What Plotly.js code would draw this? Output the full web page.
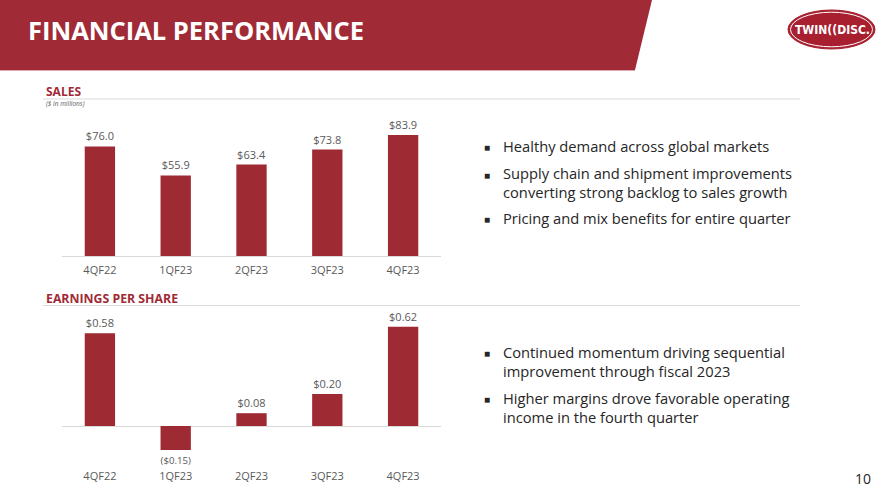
<!DOCTYPE html>
<html>
<head>
<meta charset="utf-8">
<script src="https://cdn.plot.ly/plotly-3.0.1.min.js"></script>
<style>
  html, body { margin: 0; padding: 0; background: #ffffff; }
  #chart { width: 890px; height: 501px; }
</style>
</head>
<body>
<div id="chart"></div>
<script>
// Quarterly results
const quarters = ["4QF22", "1QF23", "2QF23", "3QF23", "4QF23"];
const salesMillions = [76.0, 55.9, 63.4, 73.8, 83.9];
const salesLabels = ["$76.0", "$55.9", "$63.4", "$73.8", "$83.9"];
const epsValues = [0.58, -0.15, 0.08, 0.20, 0.62];
const epsLabels = ["$0.58", "($0.15)", "$0.08", "$0.20", "$0.62"];

// Commentary bullets (each entry is one bullet, wrapped lines joined by <br>)
const salesNotes = [
  "Healthy demand across global markets",
  "Supply chain and shipment improvements<br>converting strong backlog to sales growth",
  "Pricing and mix benefits for entire quarter"
];
const epsNotes = [
  "Continued momentum driving sequential<br>improvement through fiscal 2023",
  "Higher margins drove favorable operating<br>income in the fourth quarter"
];

const W = 890, H = 501;
const px = x => x / W;
const py = y => 1 - y / H;

const RED = "#9e2a34";
const GREY = "#595959";
const FONT = "Open Sans, sans-serif";

const traces = [
  {
    type: "bar", x: quarters, y: salesMillions, xaxis: "x", yaxis: "y",
    marker: { color: RED }, text: salesLabels, texttemplate: "%{text}",
    textposition: "outside", cliponaxis: false,
    outsidetextfont: { family: FONT, size: 11, color: GREY },
    hoverinfo: "skip"
  },
  {
    type: "bar", x: quarters, y: epsValues, xaxis: "x2", yaxis: "y2",
    marker: { color: RED }, text: epsLabels, texttemplate: "%{text}",
    textposition: "outside", cliponaxis: false,
    outsidetextfont: { family: FONT, size: 11, color: GREY },
    hoverinfo: "skip"
  }
];

const plotLeft = px(62), plotRight = px(441);

const layout = {
  width: W, height: H,
  margin: { l: 0, r: 0, t: 0, b: 0 },
  paper_bgcolor: "#ffffff", plot_bgcolor: "rgba(0,0,0,0)",
  showlegend: false, bargap: 0.6,
  font: { family: FONT, color: GREY },
  xaxis: {
    domain: [plotLeft, plotRight], anchor: "y", type: "category",
    showgrid: false, zeroline: false, showline: true, linecolor: "#d9d9d9", linewidth: 1,
    ticks: "", tickfont: { family: FONT, size: 11, color: GREY }, ticklabelstandoff: 4,
    fixedrange: true
  },
  yaxis: {
    domain: [py(256), py(115)], anchor: "x", range: [0, 97.8],
    visible: false, showgrid: false, zeroline: false, fixedrange: true
  },
  xaxis2: {
    domain: [plotLeft, plotRight], anchor: "y2", type: "category",
    showgrid: false, zeroline: false, showline: false,
    ticks: "", tickfont: { family: FONT, size: 11, color: GREY }, ticklabelstandoff: 13,
    fixedrange: true
  },
  yaxis2: {
    domain: [py(455), py(310)], anchor: "x2", range: [-0.18125, 0.725],
    showgrid: false, showticklabels: false, ticks: "",
    zeroline: true, zerolinecolor: "#d9d9d9", zerolinewidth: 1, fixedrange: true
  },
  shapes: [
    // title band
    { type: "path", xref: "paper", yref: "paper",
      path: `M 0 ${py(0)} L ${px(652)} ${py(0)} L ${px(635)} ${py(70)} L 0 ${py(70)} Z`,
      fillcolor: "#a02b36", line: { width: 0 }, layer: "below" },
    { type: "line", xref: "paper", yref: "paper",
      x0: 0, x1: px(635), y0: py(70.5), y1: py(70.5),
      line: { color: "#d9a9ae", width: 1 } },
    // logo
    { type: "circle", xref: "paper", yref: "paper",
      x0: px(788), x1: px(875), y0: py(49), y1: py(10),
      fillcolor: "#a8202f", line: { color: "#a8202f", width: 1 } },
    { type: "circle", xref: "paper", yref: "paper",
      x0: px(790.5), x1: px(872.5), y0: py(46.8), y1: py(12.2),
      fillcolor: "rgba(0,0,0,0)", line: { color: "#ffffff", width: 1 } },
    // section rules
    { type: "line", xref: "paper", yref: "paper",
      x0: px(43), x1: px(800), y0: py(99), y1: py(99),
      line: { color: "#d9d9d9", width: 1 } },
    { type: "line", xref: "paper", yref: "paper",
      x0: px(43), x1: px(800), y0: py(305.5), y1: py(305.5),
      line: { color: "#d9d9d9", width: 1 } }
  ],
  annotations: []
};

function note(text, x, y, font, extra) {
  layout.annotations.push(Object.assign({
    text: text, xref: "paper", yref: "paper", x: px(x), y: py(y),
    xanchor: "left", yanchor: "middle", showarrow: false, font: font
  }, extra || {}));
}

note("<b>FINANCIAL PERFORMANCE</b>", 26, 30, { family: FONT, size: 25.5, color: "#ffffff" });
note("<b>TWIN((DISC.</b>", 832, 29.5, { family: "Liberation Sans Narrow, DejaVu Sans Condensed, sans-serif", size: 12, color: "#ffffff" }, { xanchor: "center" });

note("<b>SALES</b>", 43.5, 91, { family: FONT, size: 12, color: "#a02b36" });
note("<i>($ in millions)</i>", 43.5, 103, { family: FONT, size: 6.5, color: GREY });
note("<b>EARNINGS PER SHARE</b>", 43.5, 298, { family: FONT, size: 12.3, color: "#a02b36" });

const TXT = { family: FONT, size: 14.7, color: "#262626" };
const BUL = { family: FONT, size: 10, color: "#262626" };

// firstRows: y of each bullet's first line, in pixels from the top
function bulletList(items, firstRows) {
  items.forEach((t, i) => {
    note("■", 481.5, firstRows[i], BUL);
    note(t, 500.5, firstRows[i], TXT, { yanchor: "top", align: "left", y: py(firstRows[i] - 13.5) });
  });
}

bulletList(salesNotes, [147, 175, 219]);
bulletList(epsNotes, [353, 399]);

note("10", 873, 478, { family: FONT, size: 14, color: "#262626" }, { xanchor: "right" });

Plotly.newPlot("chart", traces, layout, { displayModeBar: false, staticPlot: true });
</script>
</body>
</html>
